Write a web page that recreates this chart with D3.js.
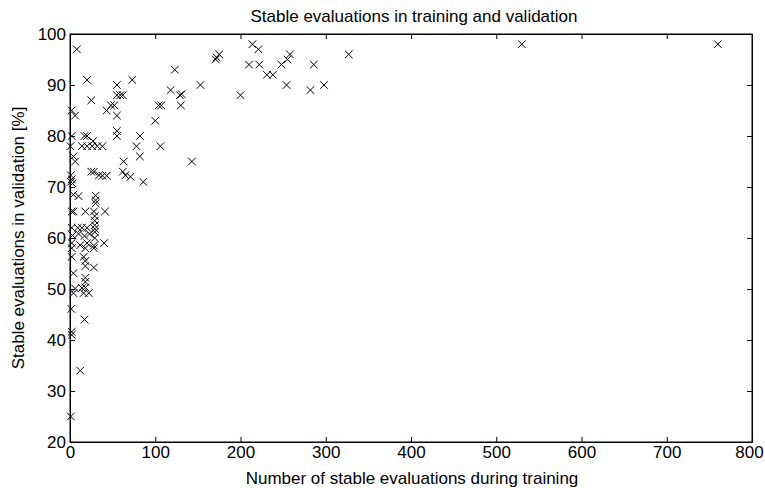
<!DOCTYPE html>
<html>
<head>
<meta charset="utf-8">
<script src="https://cdn.jsdelivr.net/npm/d3@7"></script>
<style>
  body { margin: 0; background: #fff; }
  svg { display: block; font-family: "Liberation Sans", Arial, sans-serif; }
  .axis text { font-size: 17px; fill: #000; }
  .axis path, .axis line { stroke: #000; }
</style>
</head>
<body>
<svg id="plot"></svg>
<script>
// stable evaluations during training (x) vs. stable evaluations in validation [%] (y)
const trainingCounts = [
  760, 530, 8, 214, 221, 175, 171, 172, 123, 210, 222, 231, 238, 248, 255, 258, 286, 327,
  254, 282, 298, 200, 153, 118, 129, 131, 130, 143, 104, 107, 100, 82, 78, 106, 82, 86,
  20, 55, 73, 25, 55, 59, 62, 43, 48, 52, 55, 2, 6, 55, 55, 2, 17, 20, 27,
  0.5, 14, 20, 26, 32, 38, 4, 6, 63, 25, 28, 34, 38, 43, 62, 65, 71,
  1, 2, 1, 3, 4, 10, 30, 30, 30, 2, 4, 18, 28, 41, 29, 29, 29, 29, 29,
  2, 9, 14, 20, 3, 10, 17, 23, 29, 2, 12, 20, 28, 40, 2, 18, 28,
  2, 16, 18, 18, 28, 4, 18, 18, 6, 14, 18, 4, 16, 22, 1.5, 17, 2, 2, 12, 1
];
const validationPct = [
  98, 98, 97, 98, 97, 96, 95, 95.4, 93, 94, 94, 92, 92, 94, 95, 96, 94, 96,
  90, 89, 90, 88, 90, 89, 88, 88.2, 86, 75, 86, 86, 83, 80, 78, 78, 76, 71,
  91, 90, 91, 87, 88, 88, 88, 85, 86, 86, 84, 85, 84, 81, 80, 80, 80, 80, 79,
  78, 78, 78, 78, 78, 78, 76, 75, 75, 73, 73, 72.3, 72.2, 72.2, 73, 72.3, 72,
  72.3, 71.5, 71, 70.7, 68.5, 68.2, 68.3, 67.4, 66.8, 65.2, 65.2, 65.2, 65.2, 65.2, 64.3, 63.4, 62.5, 61.8, 61.2,
  62, 62, 62, 62, 60.5, 60.8, 60.4, 60.8, 60, 59, 58.6, 59, 58.5, 59, 58, 58, 58,
  56.3, 56.3, 55.5, 54.5, 54.2, 53.1, 52.2, 51.4, 50.1, 50.2, 50.3, 49.2, 49.2, 49.2, 46.1, 44, 41.6, 41, 34, 25
];
const xTicks = [0, 100, 200, 300, 400, 500, 600, 700, 800];
const yTicks = [20, 30, 40, 50, 60, 70, 80, 90, 100];

const data = trainingCounts.map((x, i) => ({ x: x, y: validationPct[i] }));

const W = 765, H = 488;
const margin = { top: 34, right: 13, bottom: 46, left: 70 };
const width = W - margin.left - margin.right;
const height = H - margin.top - margin.bottom;

const svg = d3.select('#plot').attr('width', W).attr('height', H);
const g = svg.append('g').attr('transform', `translate(${margin.left},${margin.top})`);

const x = d3.scaleLinear().domain([0, 800]).range([0, width]);
const y = d3.scaleLinear().domain([20, 100]).range([height, 0]);

const tick = 5;
// matlab style: ticks pointing inward on all four sides
const xAxisG = g.append('g').attr('class', 'axis').attr('transform', `translate(0,${height})`)
  .call(d3.axisBottom(x).tickValues(xTicks).tickSize(-tick).tickPadding(4).tickSizeOuter(0));
// last label sits right at the window edge, keep it inside
xAxisG.selectAll('.tick text').filter(d => d === 800).attr('dx', -3);
g.append('g').attr('class', 'axis')
  .call(d3.axisTop(x).tickValues(xTicks).tickSize(-tick).tickFormat('').tickSizeOuter(0));
g.append('g').attr('class', 'axis')
  .call(d3.axisLeft(y).tickValues(yTicks).tickSize(-tick).tickPadding(4).tickSizeOuter(0));
g.append('g').attr('class', 'axis').attr('transform', `translate(${width},0)`)
  .call(d3.axisRight(y).tickValues(yTicks).tickSize(-tick).tickFormat('').tickSizeOuter(0));

g.append('rect').attr('width', width).attr('height', height)
  .attr('fill', 'none').attr('stroke', '#000');

const s = 3.8;
g.selectAll('.pt')
  .data(data)
  .enter().append('path')
  .attr('class', 'pt')
  .attr('d', d => {
    const cx = x(d.x), cy = y(d.y);
    return `M${cx - s},${cy - s}L${cx + s},${cy + s}M${cx - s},${cy + s}L${cx + s},${cy - s}`;
  })
  .attr('stroke', '#000')
  .attr('stroke-width', 1)
  .attr('fill', 'none');

svg.append('text')
  .attr('x', margin.left + width / 2 + 3).attr('y', 22)
  .attr('text-anchor', 'middle').attr('font-size', 17)
  .text('Stable evaluations in training and validation');

svg.append('text')
  .attr('x', margin.left + width / 2 + 1).attr('y', 484)
  .attr('text-anchor', 'middle').attr('font-size', 17)
  .text('Number of stable evaluations during training');

svg.append('text')
  .attr('transform', `translate(24,${margin.top + height / 2}) rotate(-90)`)
  .attr('text-anchor', 'middle').attr('font-size', 17)
  .text('Stable evaluations in validation [%]');
</script>
</body>
</html>
